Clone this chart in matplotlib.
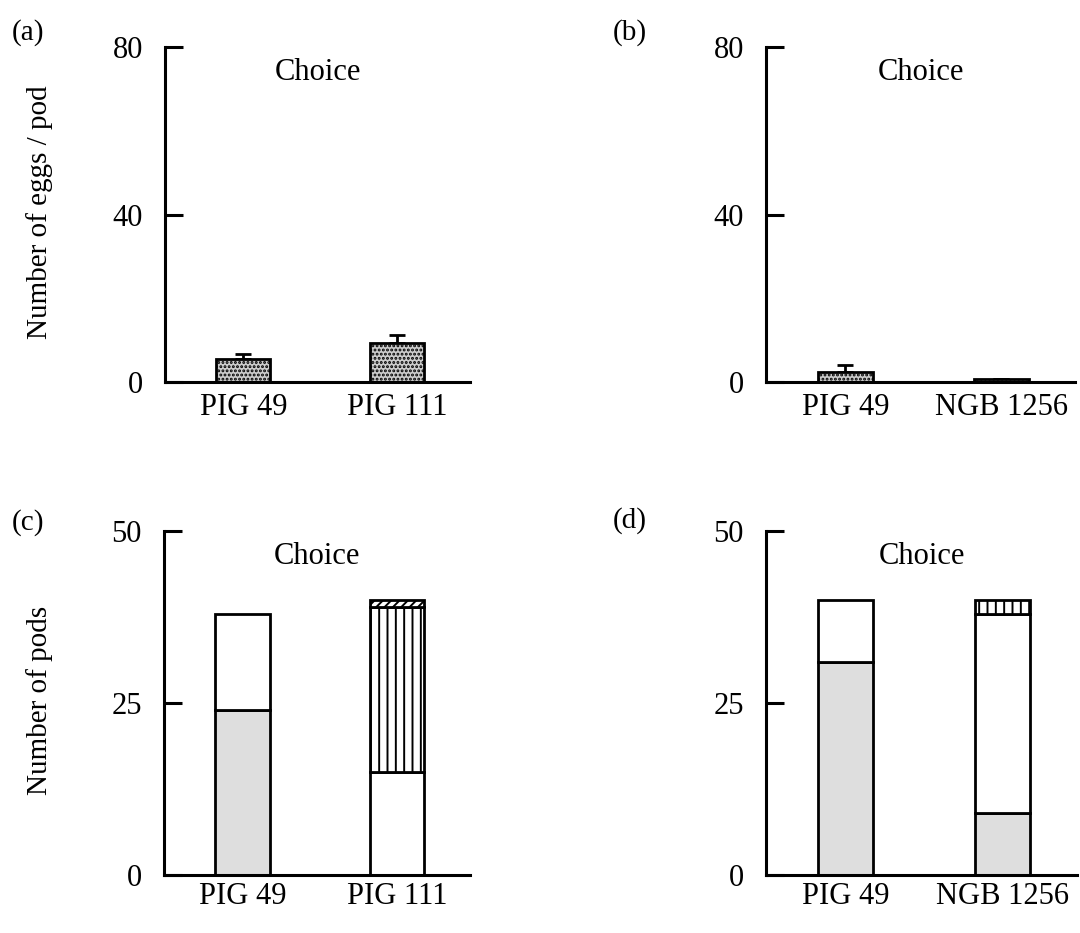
import numpy as np
import matplotlib
matplotlib.use('Agg')
import matplotlib.pyplot as plt

plt.rcParams['font.family'] = ['Liberation Serif', 'DejaVu Serif']
plt.rcParams['hatch.linewidth'] = 1.4

# egg counts per pod (mean, standard error)
eggs_a_labels = ['PIG 49', 'PIG 111']
eggs_a_mean = [5.4, 9.4]
eggs_a_se = [1.3, 1.9]

eggs_b_labels = ['PIG 49', 'NGB 1256']
eggs_b_mean = [2.3, 0.8]
eggs_b_se = [1.8, 0.0]

# number of pods, stacked from the bottom segment upwards
pods_c_labels = ['PIG 49', 'PIG 111']
pods_c_bottom = [24, 15]
pods_c_middle = [14, 24]
pods_c_top = [0, 1]

pods_d_labels = ['PIG 49', 'NGB 1256']
pods_d_bottom = [31, 9]
pods_d_middle = [9, 29]
pods_d_top = [0, 2]

xpos = np.array([1.45, 4.3])
W = 1.0
FS = 22

fig = plt.figure(figsize=(10.8, 9.33), dpi=100)
FW, FH = 1080, 933


def add_ax(left, right, top, bottom):
    return fig.add_axes([left / FW, 1 - bottom / FH, (right - left) / FW, (bottom - top) / FH])


def style(ax, ymax, ticks, labels, xpad):
    ax.set_xlim(0, 5.65)
    ax.set_ylim(0, ymax)
    ax.set_yticks(ticks)
    ax.set_xticks(xpos)
    ax.set_xticklabels(labels)
    for s in ['top', 'right']:
        ax.spines[s].set_visible(False)
    for s in ['left', 'bottom']:
        ax.spines[s].set_linewidth(2.2)
    ax.tick_params(axis='y', direction='in', length=13, width=2.2, pad=16, labelsize=FS)
    ax.tick_params(axis='x', length=0, pad=xpad, labelsize=FS)
    ax.text(0.5, 0.925, 'Choice', transform=ax.transAxes, ha='center', va='center', fontsize=FS)


ax_a = add_ax(165, 470, 47, 382)
ax_b = add_ax(766, 1075, 47, 382)
ax_c = add_ax(164, 470, 531, 875)
ax_d = add_ax(766, 1077, 531, 875)

for ax, mean, se, labels in [(ax_a, eggs_a_mean, eggs_a_se, eggs_a_labels),
                             (ax_b, eggs_b_mean, eggs_b_se, eggs_b_labels)]:
    ax.bar(xpos, mean, W, color='#cccccc', edgecolor='black', linewidth=2, hatch='....', zorder=2)
    ax.errorbar(xpos, mean, yerr=[np.zeros(len(se)), se], fmt='none', ecolor='black',
                elinewidth=2, capsize=5.5, capthick=2, zorder=1)
    style(ax, 80, [0, 40, 80], labels, 8)

# (c): grey / white for PIG 49, white / striped / diagonal top for PIG 111
ax_c.bar(xpos, pods_c_bottom, W, color=['#dedede', 'white'], edgecolor='black', linewidth=2)
ax_c.bar(xpos, pods_c_middle, W, bottom=pods_c_bottom, color='white',
         edgecolor='black', linewidth=2, hatch=['', '||'])
ax_c.bar(xpos[1], pods_c_top[1], W, bottom=pods_c_bottom[1] + pods_c_middle[1], color='white',
         edgecolor='black', linewidth=2, hatch='////')
style(ax_c, 50, [0, 25, 50], pods_c_labels, 5)

ax_d.bar(xpos, pods_d_bottom, W, color='#dedede', edgecolor='black', linewidth=2)
ax_d.bar(xpos, pods_d_middle, W, bottom=pods_d_bottom, color='white', edgecolor='black', linewidth=2)
ax_d.bar(xpos[1], pods_d_top[1], W, bottom=pods_d_bottom[1] + pods_d_middle[1], color='white',
         edgecolor='black', linewidth=2, hatch='||')
style(ax_d, 50, [0, 25, 50], pods_d_labels, 5)

# panel letters and shared axis titles
for lbl, x, y in [('(a)', 28, 33), ('(b)', 630, 33), ('(c)', 28, 523), ('(d)', 630, 521)]:
    fig.text(x / FW, 1 - y / FH, lbl, ha='center', va='center', fontsize=21)
fig.text(40 / FW, 1 - 212 / FH, 'Number of eggs / pod', rotation=90, ha='center', va='center', fontsize=21)
fig.text(40 / FW, 1 - 700 / FH, 'Number of pods', rotation=90, ha='center', va='center', fontsize=21)

fig.savefig('out.png', dpi=100)
